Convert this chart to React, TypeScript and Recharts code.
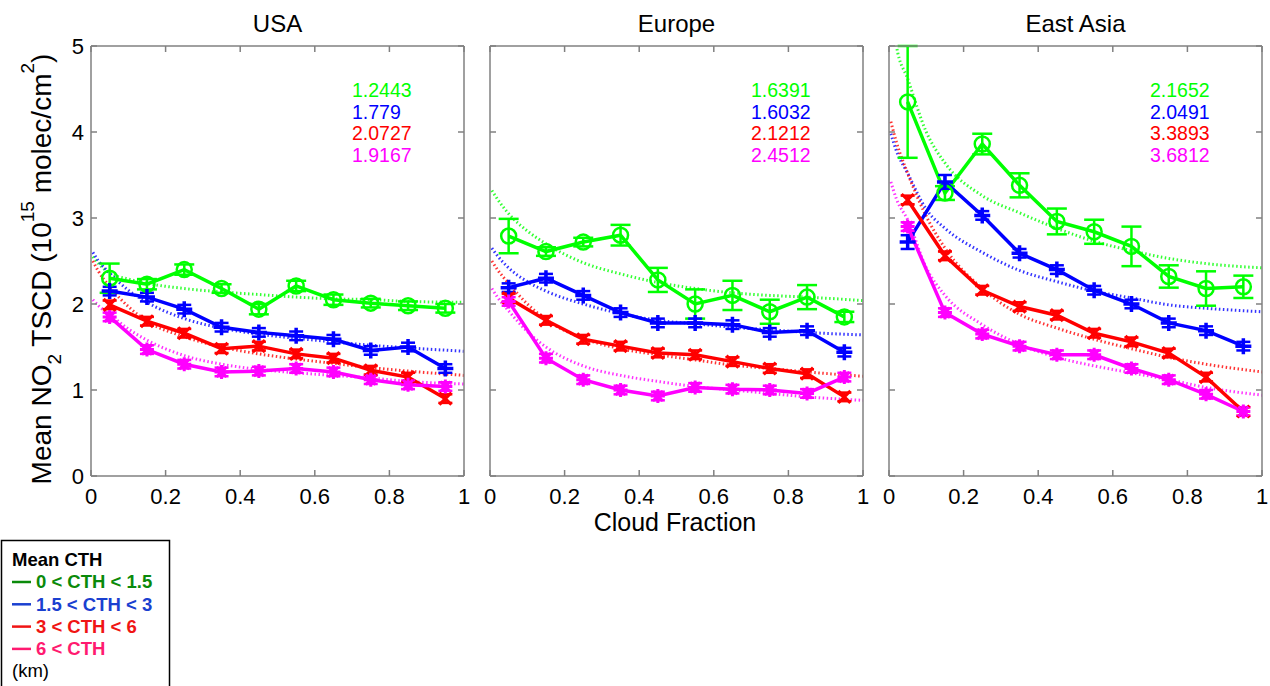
import React from 'react';
import { LineChart, Line, XAxis, YAxis, ErrorBar } from 'recharts';

// -- values --

const regions = ['USA', 'Europe', 'East Asia'];
const cloudFraction = [0.05, 0.15, 0.25, 0.35, 0.45, 0.55, 0.65, 0.75, 0.85, 0.95];
const fitX = [0.005, 0.02, 0.05, 0.1, 0.15, 0.25, 0.35, 0.45, 0.55, 0.65, 0.75, 0.85, 1.0];
const xTicks = [0, 0.2, 0.4, 0.6, 0.8, 1];
const yTicks = [0, 1, 2, 3, 4, 5];

// USA
const usaLow = [2.3, 2.23, 2.4, 2.18, 1.94, 2.21, 2.05, 2.01, 1.98, 1.95];
const usaMid = [2.15, 2.08, 1.94, 1.73, 1.67, 1.63, 1.59, 1.46, 1.5, 1.25];
const usaHigh = [1.99, 1.8, 1.66, 1.48, 1.51, 1.42, 1.37, 1.23, 1.15, 0.9];
const usaTop = [1.85, 1.47, 1.3, 1.21, 1.22, 1.25, 1.21, 1.12, 1.06, 1.04];
const usaLowErr = [0.17, 0.06, 0.06, 0.05, 0.06, 0.06, 0.06, 0.05, 0.05, 0.05];
const usaFitLow = [2.55, 2.47, 2.36, 2.29, 2.24, 2.18, 2.14, 2.11, 2.08, 2.06, 2.05, 2.03, 2.02];
const usaFitMid = [2.6, 2.5, 2.36, 2.16, 2.02, 1.83, 1.72, 1.65, 1.6, 1.56, 1.52, 1.49, 1.45];
const usaFitHigh = [2.5, 2.38, 2.2, 1.97, 1.8, 1.62, 1.5, 1.42, 1.36, 1.31, 1.26, 1.22, 1.17];
const usaFitTop = [2.05, 1.98, 1.88, 1.71, 1.58, 1.4, 1.3, 1.24, 1.2, 1.17, 1.14, 1.1, 1.07];
const usaCoef = ['1.2443', '1.779', '2.0727', '1.9167'];

// Europe
const eurLow = [2.79, 2.61, 2.72, 2.8, 2.28, 2.0, 2.1, 1.91, 2.08, 1.85];
const eurMid = [2.19, 2.3, 2.1, 1.9, 1.78, 1.78, 1.76, 1.67, 1.69, 1.44];
const eurHigh = [2.07, 1.81, 1.59, 1.51, 1.43, 1.41, 1.33, 1.25, 1.19, 0.92];
const eurTop = [2.03, 1.37, 1.12, 1.0, 0.93, 1.03, 1.01, 1.0, 0.96, 1.15];
const eurLowErr = [0.2, 0.05, 0.05, 0.12, 0.14, 0.17, 0.17, 0.14, 0.14, 0.06];
const eurFitLow = [3.32, 3.22, 3.05, 2.85, 2.7, 2.48, 2.35, 2.25, 2.18, 2.13, 2.1, 2.08, 2.04];
const eurFitMid = [2.65, 2.56, 2.42, 2.26, 2.15, 2.0, 1.89, 1.81, 1.77, 1.73, 1.7, 1.67, 1.64];
const eurFitHigh = [2.5, 2.4, 2.24, 2.0, 1.82, 1.6, 1.48, 1.41, 1.35, 1.29, 1.25, 1.21, 1.16];
const eurFitTop = [2.18, 2.08, 1.92, 1.68, 1.5, 1.28, 1.17, 1.1, 1.04, 1.0, 0.96, 0.92, 0.88];
const eurCoef = ['1.6391', '1.6032', '2.1212', '2.4512'];

// East Asia
const asiaLow = [4.35, 3.29, 3.86, 3.38, 2.96, 2.84, 2.67, 2.32, 2.18, 2.2];
const asiaMid = [2.72, 3.42, 3.03, 2.59, 2.4, 2.16, 2.0, 1.78, 1.69, 1.51];
const asiaHigh = [3.21, 2.56, 2.16, 1.97, 1.87, 1.66, 1.56, 1.43, 1.15, 0.75];
const asiaTop = [2.9, 1.9, 1.65, 1.51, 1.41, 1.41, 1.25, 1.12, 0.95, 0.75];
const asiaLowErr = [0.65, 0.08, 0.12, 0.14, 0.15, 0.14, 0.23, 0.13, 0.2, 0.13];
const asiaMidErr = [0.08, 0.08, 0.05, 0.05, 0.05, 0.05, 0.05, 0.05, 0.05, 0.05];
const asiaFitLow = [6.5, 5.0, 4.62, 4.0, 3.64, 3.26, 3.06, 2.88, 2.73, 2.62, 2.53, 2.47, 2.42];
const asiaFitMid = [3.98, 3.78, 3.52, 3.1, 2.88, 2.6, 2.39, 2.26, 2.15, 2.07, 1.99, 1.95, 1.91];
const asiaFitHigh = [4.12, 3.88, 3.52, 3.02, 2.65, 2.18, 1.88, 1.72, 1.59, 1.48, 1.38, 1.3, 1.21];
const asiaFitTop = [3.42, 3.22, 2.98, 2.42, 2.1, 1.76, 1.53, 1.38, 1.28, 1.2, 1.12, 1.03, 0.94];
const asiaCoef = ['2.1652', '2.0491', '3.3893', '3.6812'];

const smallErr = [0.05, 0.05, 0.05, 0.05, 0.05, 0.05, 0.05, 0.05, 0.05, 0.05];

const legendItems = ['0 < CTH < 1.5', '1.5 < CTH < 3', '3 < CTH < 6', '6 < CTH'];
const legendColors = ['#0a8a0a', '#1a40d0', '#f01414', '#ff1a70'];

const COLORS = ['#00ff00', '#0000ff', '#ff0000', '#ff00ff'];
const FONT = '"Liberation Sans", Arial, Helvetica, sans-serif';
const AXIS = '#808080';

const points = (ys: number[], errs: number[]) =>
  ys.map((y, i) => ({ x: cloudFraction[i], y, err: errs[i] }));
const fitPoints = (ys: number[]) => ys.map((y, i) => ({ x: fitX[i], y }));

const panels = [
  {
    series: [points(usaLow, usaLowErr), points(usaMid, smallErr), points(usaHigh, smallErr), points(usaTop, smallErr)],
    fits: [usaFitLow, usaFitMid, usaFitHigh, usaFitTop].map(fitPoints),
    coef: usaCoef,
  },
  {
    series: [points(eurLow, eurLowErr), points(eurMid, smallErr), points(eurHigh, smallErr), points(eurTop, smallErr)],
    fits: [eurFitLow, eurFitMid, eurFitHigh, eurFitTop].map(fitPoints),
    coef: eurCoef,
  },
  {
    series: [points(asiaLow, asiaLowErr), points(asiaMid, asiaMidErr), points(asiaHigh, smallErr), points(asiaTop, smallErr)],
    fits: [asiaFitLow, asiaFitMid, asiaFitHigh, asiaFitTop].map(fitPoints),
    coef: asiaCoef,
  },
];

// markers: o, +, x, *
const markers = [
  (c: string) => (p: any) => (
    <circle key={`o${p.index}`} cx={p.cx} cy={p.cy} r={7.5} fill="none" stroke={c} strokeWidth={2.5} />
  ),
  (c: string) => (p: any) => (
    <path key={`p${p.index}`} d={`M${p.cx - 8},${p.cy}H${p.cx + 8}M${p.cx},${p.cy - 8}V${p.cy + 8}`} stroke={c} strokeWidth={3.5} />
  ),
  (c: string) => (p: any) => (
    <path key={`x${p.index}`} d={`M${p.cx - 6},${p.cy - 6}L${p.cx + 6},${p.cy + 6}M${p.cx - 6},${p.cy + 6}L${p.cx + 6},${p.cy - 6}`} stroke={c} strokeWidth={3} />
  ),
  (c: string) => (p: any) => (
    <path
      key={`s${p.index}`}
      d={`M${p.cx - 7},${p.cy}H${p.cx + 7}M${p.cx},${p.cy - 7}V${p.cy + 7}M${p.cx - 5},${p.cy - 5}L${p.cx + 5},${p.cy + 5}M${p.cx - 5},${p.cy + 5}L${p.cx + 5},${p.cy - 5}`}
      stroke={c}
      strokeWidth={3}
    />
  ),
];

const PLOT_LEFT = [91, 490, 889];
const PLOT_W = 373;
const AXIS_W = 40;
const TOP_PAD = 20;

const Panel = ({ idx }: { idx: number }) => {
  const panel = panels[idx];
  const showLabels = idx === 0;
  return (
    <div style={{ position: 'absolute', left: PLOT_LEFT[idx] - AXIS_W, top: 45 - TOP_PAD }}>
      <LineChart width={AXIS_W + PLOT_W + 12} height={471 + TOP_PAD} margin={{ top: TOP_PAD, right: 0, bottom: 0, left: 0 }}>
        <XAxis
          xAxisId="b"
          dataKey="x"
          type="number"
          domain={[0, 1]}
          ticks={xTicks}
          allowDataOverflow
          height={40}
          stroke={AXIS}
          strokeWidth={1.5}
          tickSize={-6}
          tickMargin={18}
          tick={{ fill: '#000', fontSize: 22, fontFamily: FONT }}
        />
        <XAxis
          xAxisId="t"
          orientation="top"
          dataKey="x"
          type="number"
          domain={[0, 1]}
          ticks={xTicks}
          allowDataOverflow
          height={1}
          stroke={AXIS}
          strokeWidth={1.5}
          tickSize={-6}
          tickFormatter={() => ''}
        />
        <YAxis
          yAxisId="l"
          type="number"
          domain={[0, 5]}
          ticks={yTicks}
          allowDataOverflow
          width={AXIS_W}
          stroke={AXIS}
          strokeWidth={1.5}
          tickSize={-6}
          tickMargin={13}
          tickFormatter={showLabels ? undefined : () => ''}
          tick={{ fill: '#000', fontSize: 22, fontFamily: FONT }}
        />
        <YAxis
          yAxisId="r"
          orientation="right"
          type="number"
          domain={[0, 5]}
          ticks={yTicks}
          allowDataOverflow
          width={12}
          stroke={AXIS}
          strokeWidth={1.5}
          tickSize={-6}
          tickFormatter={() => ''}
        />
        {panel.fits.map((f, i) => (
          <Line
            key={`fit${i}`}
            xAxisId="b"
            yAxisId="l"
            data={f}
            dataKey="y"
            type="monotone"
            stroke={COLORS[i]}
            strokeWidth={3}
            strokeDasharray="1.5 2.5"
            strokeOpacity={0.8}
            dot={false}
            activeDot={false}
            isAnimationActive={false}
          />
        ))}
        {panel.series.map((s, i) => (
          <Line
            key={`s${i}`}
            xAxisId="b"
            yAxisId="l"
            data={s}
            dataKey="y"
            type="linear"
            stroke={COLORS[i]}
            strokeWidth={3.5}
            dot={markers[i](COLORS[i])}
            activeDot={false}
            isAnimationActive={false}
          >
            <ErrorBar dataKey="err" direction="y" width={i === 0 ? 10 : 7} stroke={COLORS[i]} strokeWidth={2.5} />
          </Line>
        ))}
      </LineChart>
    </div>
  );
};

const Overlay = () => (
  <svg width={1270} height={686} style={{ position: 'absolute', left: 0, top: 0, pointerEvents: 'none' }} fontFamily={FONT}>
    {regions.map((r, i) => (
      <text key={r} x={PLOT_LEFT[i] + PLOT_W / 2} y={32} fontSize={24} textAnchor="middle" fill="#000">
        {r}
      </text>
    ))}
    {panels.map((p, i) =>
      p.coef.map((c, j) => (
        <text key={`${i}-${j}`} x={PLOT_LEFT[i] + 261} y={97 + j * 21.5} fontSize={19.5} fill={COLORS[j]}>
          {c}
        </text>
      ))
    )}
    <text x={675} y={531} fontSize={25} textAnchor="middle" fill="#000">
      Cloud Fraction
    </text>
    <text x={51} y={269} fontSize={28} textAnchor="middle" fill="#000" transform="rotate(-90 51 269)">
      Mean NO
      <tspan fontSize={19} dy={10}>2</tspan>
      <tspan dy={-10}> TSCD (10</tspan>
      <tspan fontSize={19} dy={-17}>15</tspan>
      <tspan dy={17}> molec/cm</tspan>
      <tspan fontSize={19} dy={-17}>2</tspan>
      <tspan dy={17}>)</tspan>
    </text>
    <rect x={1.5} y={540.5} width={168} height={160} fill="#fff" stroke="#000" strokeWidth={1.5} />
    <text x={12} y={566} fontSize={18.5} fontWeight="bold" fill="#000">
      Mean CTH
    </text>
    {legendItems.map((t, i) => (
      <g key={t}>
        <line x1={12} x2={31} y1={582 + i * 22.3} y2={582 + i * 22.3} stroke={legendColors[i]} strokeWidth={2.5} />
        <text x={36} y={588.3 + i * 22.3} fontSize={18.5} fontWeight="bold" fill={legendColors[i]}>
          {t}
        </text>
      </g>
    ))}
    <text x={12} y={677} fontSize={18.5} fill="#000">
      (km)
    </text>
  </svg>
);

export default function App() {
  return (
    <div style={{ position: 'absolute', left: 0, top: 0, width: 1270, height: 686, background: '#fff', overflow: 'hidden' }}>
      <Panel idx={0} />
      <Panel idx={1} />
      <Panel idx={2} />
      <Overlay />
    </div>
  );
}
